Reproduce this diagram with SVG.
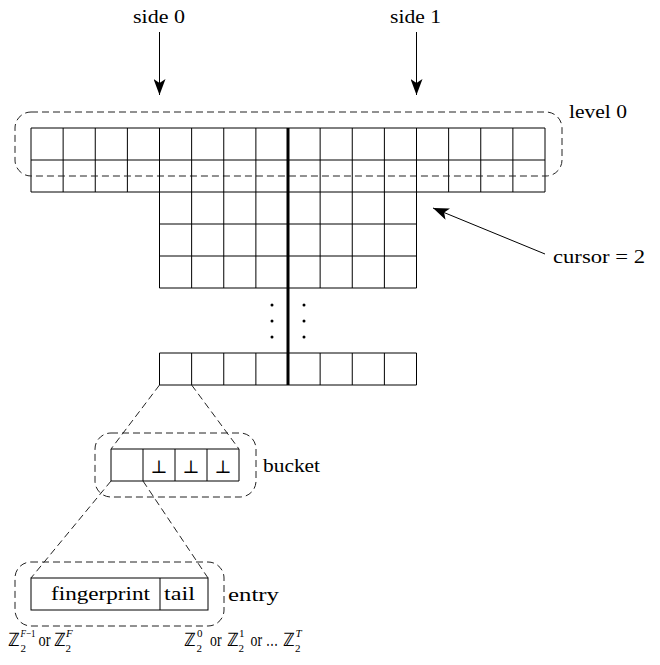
<svg xmlns="http://www.w3.org/2000/svg" width="660" height="665" viewBox="0 0 660 665" font-family="'Liberation Serif', 'Times New Roman', Times, serif">
  <style>
    text { font-family: 'Liberation Serif', 'Times New Roman', Times, serif; }
    .t { font-size: 18.5px; fill: #000; }
    .s { font-size: 11px; }
    .i { font-style: italic; }
    .cell { fill: none; stroke: #000; stroke-width: 1; }
    .dash { fill: none; stroke: #222; stroke-width: 1; stroke-dasharray: 7 4; }
    .arrow { fill: none; stroke: #000; stroke-width: 1; marker-end: url(#head); }
    .sym { font-family: 'Liberation Serif', 'DejaVu Serif', serif; font-size: 18px; text-anchor: middle; fill: #000; }
  </style>
  <defs>
    <marker id="head" markerUnits="userSpaceOnUse" viewBox="0 0 16 12" refX="16" refY="6" markerWidth="16" markerHeight="12" orient="auto">
      <path d="M0,0 L16,6 L0,12 L4,6 z" fill="#000"/>
    </marker>
  </defs>
  <rect width="660" height="665" fill="#fff"/>

  <!-- level 0: two full-width rows -->
  <g id="level0">
    <path class="cell" d="M31,128H545M31,160H545M31,192H545
      M31,128V192M63.125,128V192M95.25,128V192M127.375,128V192
      M448.625,128V192M480.75,128V192M512.875,128V192M545,128V192"/>
    <rect class="dash" x="15" y="112" width="547" height="64" rx="16"/>
    <text class="t" x="569" y="118" textLength="58" lengthAdjust="spacingAndGlyphs">level 0</text>
  </g>

  <!-- central column of levels below level 0 -->
  <g id="levels">
    <path class="cell" d="M159.5,224H416.5M159.5,256H416.5M159.5,288H416.5
      M159.5,128V288M191.625,128V288M223.75,128V288M255.875,128V288
      M320.125,128V288M352.25,128V288M384.375,128V288M416.5,128V288"/>
    <g fill="#000">
      <circle cx="272" cy="305" r="1.5"/>
      <circle cx="272" cy="321" r="1.5"/>
      <circle cx="272" cy="337" r="1.5"/>
      <circle cx="304" cy="305" r="1.5"/>
      <circle cx="304" cy="321" r="1.5"/>
      <circle cx="304" cy="337" r="1.5"/>
    </g>
  </g>

  <!-- last level -->
  <g id="last-level">
    <path class="cell" d="M159.5,353H416.5M159.5,385H416.5
      M159.5,353V385M191.625,353V385M223.75,353V385M255.875,353V385
      M320.125,353V385M352.25,353V385M384.375,353V385M416.5,353V385"/>
  </g>

  <!-- divider between side 0 and side 1 -->
  <g id="divider">
    <line x1="288" y1="128" x2="288" y2="385" stroke="#000" stroke-width="3"/>
  </g>

  <!-- bucket of four entries -->
  <g id="bucket">
    <path class="cell" d="M111,449H239M111,481H239M111,449V481M143,449V481M175,449V481M207,449V481M239,449V481"/>
    <text class="sym" x="159" y="473">⊥</text>
    <text class="sym" x="191" y="473">⊥</text>
    <text class="sym" x="223" y="473">⊥</text>
    <rect class="dash" x="95" y="433" width="161" height="64" rx="16"/>
    <text class="t" x="263" y="472" textLength="57" lengthAdjust="spacingAndGlyphs">bucket</text>
  </g>

  <!-- entry: fingerprint and tail -->
  <g id="entry">
    <rect class="cell" x="31" y="578" width="177" height="32"/>
    <line class="cell" x1="160" y1="578" x2="160" y2="610"/>
    <text class="t" x="51" y="600" textLength="99" lengthAdjust="spacingAndGlyphs">fingerprint</text>
    <text class="t" x="164" y="600" textLength="31" lengthAdjust="spacingAndGlyphs">tail</text>
    <rect class="dash" x="15" y="562" width="209" height="64" rx="16"/>
    <text class="t" x="228" y="601" textLength="51" lengthAdjust="spacingAndGlyphs">entry</text>
  </g>

  <!-- value ranges of the two fields -->
  <g id="ranges">
    <text class="t" x="8" y="646">ℤ</text>
    <text class="t s" x="20.5" y="652">2</text>
    <text class="t s" x="20.5" y="637" textLength="15" lengthAdjust="spacingAndGlyphs"><tspan class="i">F</tspan>−1</text>
    <text class="t" x="38.5" y="646" textLength="12" lengthAdjust="spacingAndGlyphs">or</text>
    <text class="t" x="54" y="646">ℤ</text>
    <text class="t s" x="65.5" y="652">2</text>
    <text class="t s i" x="66" y="637">F</text>

    <text class="t" x="184" y="646">ℤ</text>
    <text class="t s" x="196.5" y="652">2</text>
    <text class="t s" x="197" y="637">0</text>
    <text class="t" x="210" y="646" textLength="11.5" lengthAdjust="spacingAndGlyphs">or</text>
    <text class="t" x="226.5" y="646">ℤ</text>
    <text class="t s" x="238.5" y="652">2</text>
    <text class="t s" x="239" y="637">1</text>
    <text class="t" x="250.5" y="646" textLength="11.5" lengthAdjust="spacingAndGlyphs">or</text>
    <text class="t" x="266" y="646" textLength="12" lengthAdjust="spacingAndGlyphs">…</text>
    <text class="t" x="283" y="646">ℤ</text>
    <text class="t s" x="295" y="652">2</text>
    <text class="t s i" x="295.5" y="637">T</text>
  </g>

  <!-- side labels -->
  <g id="side0">
    <text class="t" x="133" y="23" textLength="52" lengthAdjust="spacingAndGlyphs">side 0</text>
  </g>
  <g id="side1">
    <text class="t" x="390" y="23" textLength="51" lengthAdjust="spacingAndGlyphs">side 1</text>
  </g>
  <g id="cursor">
    <text class="t" x="553" y="263" textLength="92" lengthAdjust="spacingAndGlyphs">cursor = 2</text>
  </g>

  <!-- connectors -->
  <g id="connectors">
    <line class="arrow" x1="159.5" y1="32" x2="159.5" y2="95"/>
    <line class="arrow" x1="416.5" y1="32" x2="416.5" y2="95"/>
    <line class="arrow" x1="545" y1="254" x2="433" y2="208"/>
    <path class="dash" d="M159.5,385L111,449M191.625,385L239,449"/>
    <path class="dash" d="M111,481L31,578M143,481L208,578"/>
  </g>
</svg>
